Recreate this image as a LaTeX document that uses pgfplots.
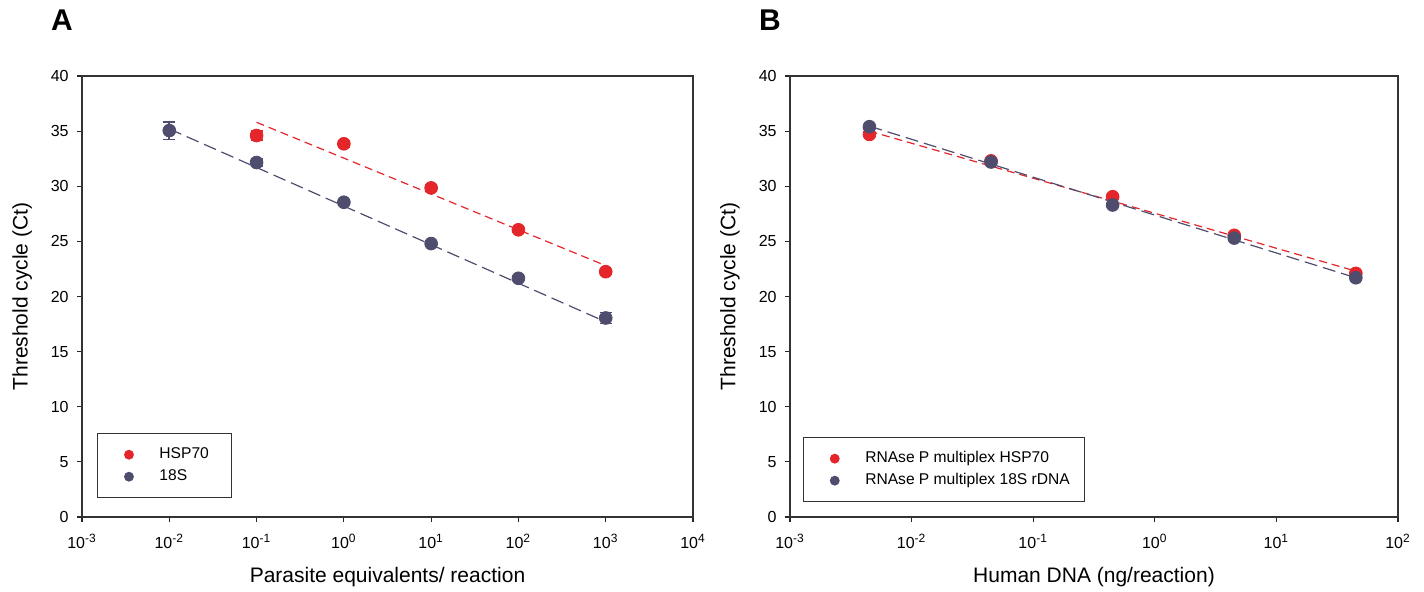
\documentclass[border=0pt]{standalone}
\usepackage{pgfplots}
\pgfplotsset{compat=1.18}
\usepackage{fontspec}
\setmainfont{Liberation Sans}
\definecolor{cred}{RGB}{228,38,43}
\definecolor{cnavy}{RGB}{78,77,110}
\pgfplotsset{
  every axis/.append style={
    scale only axis, height=220.5pt,
    ymin=0, ymax=40, ytick={0,5,...,40},
    xminorticks=false, tick align=outside, major tick length=2.5pt,
    tick pos=left,
    axis line style={black!80, line width=0.6pt},
    tick style={black!85, line width=0.6pt},
    /pgf/number format/assume math mode=true,
    tick label style={font=\fontsize{8}{9.6}\selectfont},
    yticklabel style={inner sep=0pt, xshift=-4pt},
    xticklabel style={inner sep=0pt, yshift=-6pt},
    label style={font=\fontsize{10.5}{12.6}\selectfont},
    legend cell align=left,
  },
}
\begin{document}
\begin{tikzpicture}
\path[use as bounding box] (0,0) rectangle (712pt,296pt);
\node[font=\bfseries\fontsize{15}{18}\selectfont] at (31pt,286pt) {A};
\node[font=\bfseries\fontsize{15}{18}\selectfont] at (385pt,286pt) {B};
% Panel A
\begin{semilogxaxis}[at={(41pt,37.5pt)}, anchor=south west, width=305.5pt,
  xmin=1e-3, xmax=1e4,
  xtick={1e-3,1e-2,1e-1,1,1e1,1e2,1e3,1e4},
  xticklabels={10\textsuperscript{-3},10\textsuperscript{-2},10\textsuperscript{-1},10\textsuperscript{0},10\textsuperscript{1},10\textsuperscript{2},10\textsuperscript{3},10\textsuperscript{4}},
  xlabel={Parasite equivalents/ reaction},
  ylabel={Threshold cycle (Ct)},
  xlabel style={at={(axis description cs:0.5,-0.136)}, anchor=center},
  ylabel style={at={(axis description cs:-0.098,0.5)}, anchor=center},
  legend style={at={(axis description cs:0.0245,0.19)}, anchor=north west,
    draw=black!80, line width=0.5pt, inner xsep=3.5pt, inner ysep=6.5pt,
    row sep=3pt, column sep=3pt,
    nodes={inner sep=0pt, text height=6pt, text depth=2pt, font=\fontsize{7.8}{9}\selectfont}}]
\addplot[forget plot, cred, line width=0.6pt, dash pattern=on 4pt off 2.5pt] coordinates {(0.1,35.8) (1000,22.8)};
\addplot[forget plot, cnavy, line width=0.6pt, dash pattern=on 6.5pt off 3pt] coordinates {(0.01,35.2) (1000,17.7)};
\addplot[only marks, mark=*, color=cred, mark size=3.2pt, mark options={draw=none, fill=cred},
    legend image code/.code={\path (0pt,0pt) (24pt,0pt); \fill[cred] (12pt,0pt) circle (2.2pt);},
    error bars/.cd, y dir=both, y explicit,
    error bar style={line width=0.8pt, color=cred},
    error mark options={rotate=90, mark size=3pt, line width=0.8pt, color=cred}] coordinates {
  (0.1,34.6) +- (0,0.4)
  (1,33.85) +- (0,0.3)
  (10,29.85) +- (0,0.3)
  (100,26.05) +- (0,0.2)
  (1000,22.25) +- (0,0.2)
};
\addlegendentry{HSP70\hspace*{8pt}}
\addplot[only marks, mark=*, color=cnavy, mark size=3.2pt, mark options={draw=none, fill=cnavy},
    legend image code/.code={\path (0pt,0pt) (24pt,0pt); \fill[cnavy] (12pt,0pt) circle (2.2pt);},
    error bars/.cd, y dir=both, y explicit,
    error bar style={line width=0.8pt, color=cnavy},
    error mark options={rotate=90, mark size=3pt, line width=0.8pt, color=cnavy}] coordinates {
  (0.01,35.05) +- (0,0.8)
  (0.1,32.15) +- (0,0.3)
  (1,28.55) +- (0,0.2)
  (10,24.8) +- (0,0.2)
  (100,21.65) +- (0,0.2)
  (1000,18.05) +- (0,0.5)
};
\addlegendentry{18S}
\end{semilogxaxis}
% Panel B
\begin{semilogxaxis}[at={(395pt,37.5pt)}, anchor=south west, width=304pt,
  xmin=1e-3, xmax=1e2,
  xtick={1e-3,1e-2,1e-1,1,1e1,1e2},
  xticklabels={10\textsuperscript{-3},10\textsuperscript{-2},10\textsuperscript{-1},10\textsuperscript{0},10\textsuperscript{1},10\textsuperscript{2}},
  xlabel={Human DNA (ng/reaction)},
  ylabel={Threshold cycle (Ct)},
  xlabel style={at={(axis description cs:0.5,-0.136)}, anchor=center},
  ylabel style={at={(axis description cs:-0.0987,0.5)}, anchor=center},
  legend style={at={(axis description cs:0.021,0.181)}, anchor=north west,
    draw=black!80, line width=0.5pt, inner xsep=3.5pt, inner ysep=6.5pt,
    row sep=3pt, column sep=3pt,
    nodes={inner sep=0pt, text height=6pt, text depth=2pt, font=\fontsize{7.8}{9}\selectfont}}]
\addplot[forget plot, cred, line width=0.6pt, dash pattern=on 4pt off 2.5pt] coordinates {(0.0045,35.0) (45,22.3)};
\addplot[forget plot, cnavy, line width=0.6pt, dash pattern=on 6.5pt off 3pt] coordinates {(0.0045,35.45) (45,21.7)};
\addplot[only marks, mark=*, color=cred, mark size=3.2pt, mark options={draw=none, fill=cred},
    legend image code/.code={\path (0pt,0pt) (24pt,0pt); \fill[cred] (12pt,0pt) circle (2.2pt);},
    error bars/.cd, y dir=both, y explicit,
    error bar style={line width=0.8pt, color=cred},
    error mark options={rotate=90, mark size=3pt, line width=0.8pt, color=cred}] coordinates {
  (0.0045,34.7) +- (0,0.2)
  (0.045,32.3) +- (0,0.2)
  (0.45,29.05) +- (0,0.2)
  (4.5,25.55) +- (0,0.2)
  (45,22.1) +- (0,0.2)
};
\addlegendentry{RNAse P multiplex HSP70}
\addplot[only marks, mark=*, color=cnavy, mark size=3.2pt, mark options={draw=none, fill=cnavy},
    legend image code/.code={\path (0pt,0pt) (24pt,0pt); \fill[cnavy] (12pt,0pt) circle (2.2pt);},
    error bars/.cd, y dir=both, y explicit,
    error bar style={line width=0.8pt, color=cnavy},
    error mark options={rotate=90, mark size=3pt, line width=0.8pt, color=cnavy}] coordinates {
  (0.0045,35.4) +- (0,0.2)
  (0.045,32.2) +- (0,0.2)
  (0.45,28.3) +- (0,0.2)
  (4.5,25.3) +- (0,0.2)
  (45,21.7) +- (0,0.2)
};
\addlegendentry{RNAse P multiplex 18S rDNA\hspace*{4pt}}
\end{semilogxaxis}
\end{tikzpicture}
\end{document}
